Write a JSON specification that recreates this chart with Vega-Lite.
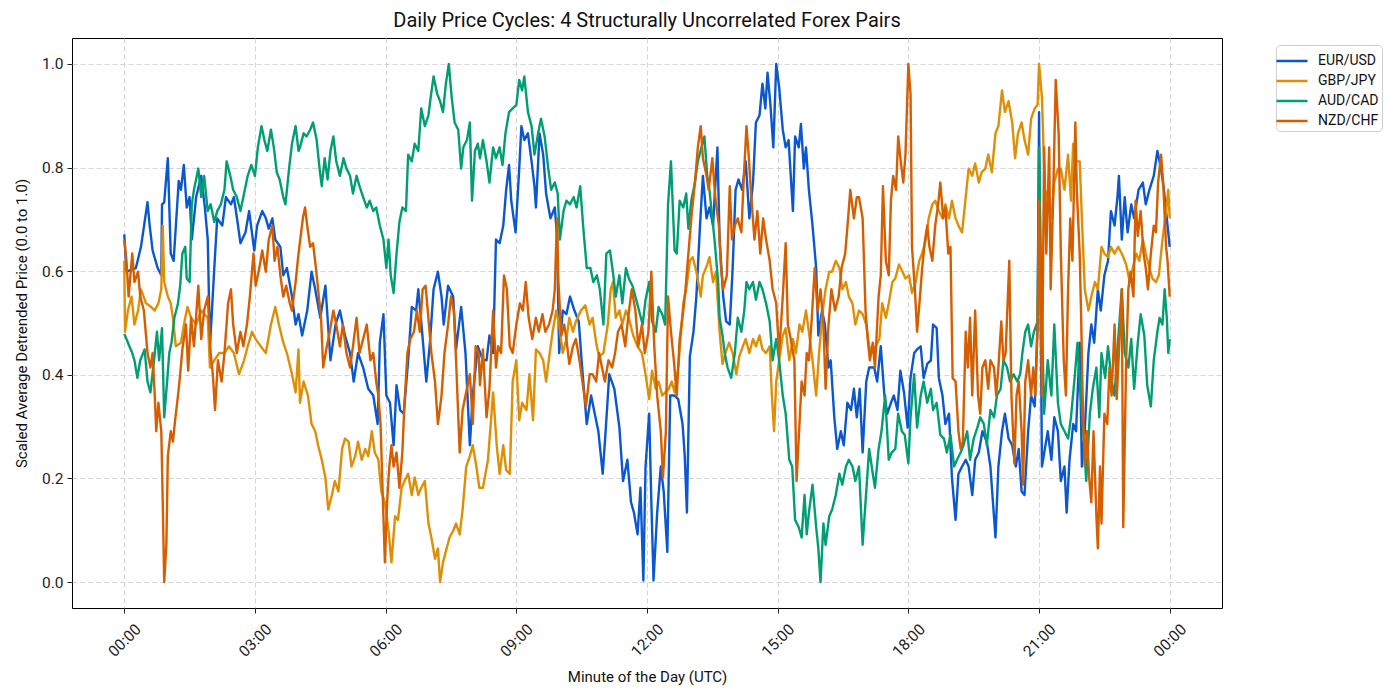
{
"$schema": "https://vega.github.io/schema/vega-lite/v6.json",
"width": 1150,
"height": 570,
"autosize": "none",
"padding": {"left": 72, "top": 38, "right": 178, "bottom": 92},
"background": "white",
"title": {"text": "Daily Price Cycles: 4 Structurally Uncorrelated Forex Pairs", "fontSize": 20, "font": "Roboto", "fontWeight": "normal", "color": "#111", "offset": 7, "anchor": "middle"},
"config": {"view": {"stroke": "#000", "strokeWidth": 1}, "font": "Roboto"},
"data": {"values": [
{"s":"EUR/USD","t":0,"v":0.671},{"s":"EUR/USD","t":3,"v":0.599},{"s":"EUR/USD","t":16,"v":0.606},{"s":"EUR/USD","t":23,"v":0.647},{"s":"EUR/USD","t":32,"v":0.733},{"s":"EUR/USD","t":35,"v":0.688},{"s":"EUR/USD","t":39,"v":0.640},{"s":"EUR/USD","t":46,"v":0.606},{"s":"EUR/USD","t":51,"v":0.592},{"s":"EUR/USD","t":52,"v":0.729},{"s":"EUR/USD","t":55,"v":0.733},{"s":"EUR/USD","t":60,"v":0.818},{"s":"EUR/USD","t":64,"v":0.634},{"s":"EUR/USD","t":68,"v":0.620},{"s":"EUR/USD","t":75,"v":0.774},{"s":"EUR/USD","t":78,"v":0.757},{"s":"EUR/USD","t":82,"v":0.805},{"s":"EUR/USD","t":86,"v":0.723},{"s":"EUR/USD","t":90,"v":0.743},{"s":"EUR/USD","t":93,"v":0.661},{"s":"EUR/USD","t":99,"v":0.743},{"s":"EUR/USD","t":106,"v":0.784},{"s":"EUR/USD","t":111,"v":0.723},{"s":"EUR/USD","t":115,"v":0.661},{"s":"EUR/USD","t":118,"v":0.455},{"s":"EUR/USD","t":124,"v":0.606},{"s":"EUR/USD","t":128,"v":0.702},{"s":"EUR/USD","t":135,"v":0.688},{"s":"EUR/USD","t":140,"v":0.743},{"s":"EUR/USD","t":147,"v":0.729},{"s":"EUR/USD","t":151,"v":0.743},{"s":"EUR/USD","t":156,"v":0.695},{"s":"EUR/USD","t":160,"v":0.654},{"s":"EUR/USD","t":167,"v":0.675},{"s":"EUR/USD","t":172,"v":0.716},{"s":"EUR/USD","t":179,"v":0.640},{"s":"EUR/USD","t":183,"v":0.688},{"s":"EUR/USD","t":190,"v":0.716},{"s":"EUR/USD","t":195,"v":0.702},{"s":"EUR/USD","t":199,"v":0.682},{"s":"EUR/USD","t":204,"v":0.702},{"s":"EUR/USD","t":208,"v":0.661},{"s":"EUR/USD","t":215,"v":0.647},{"s":"EUR/USD","t":219,"v":0.592},{"s":"EUR/USD","t":224,"v":0.606},{"s":"EUR/USD","t":231,"v":0.551},{"s":"EUR/USD","t":236,"v":0.497},{"s":"EUR/USD","t":240,"v":0.517},{"s":"EUR/USD","t":245,"v":0.476},{"s":"EUR/USD","t":252,"v":0.524},{"s":"EUR/USD","t":258,"v":0.599},{"s":"EUR/USD","t":263,"v":0.565},{"s":"EUR/USD","t":270,"v":0.510},{"s":"EUR/USD","t":277,"v":0.572},{"s":"EUR/USD","t":284,"v":0.428},{"s":"EUR/USD","t":291,"v":0.497},{"s":"EUR/USD","t":297,"v":0.524},{"s":"EUR/USD","t":304,"v":0.476},{"s":"EUR/USD","t":311,"v":0.442},{"s":"EUR/USD","t":316,"v":0.387},{"s":"EUR/USD","t":322,"v":0.442},{"s":"EUR/USD","t":329,"v":0.414},{"s":"EUR/USD","t":336,"v":0.373},{"s":"EUR/USD","t":343,"v":0.360},{"s":"EUR/USD","t":349,"v":0.305},{"s":"EUR/USD","t":352,"v":0.462},{"s":"EUR/USD","t":357,"v":0.517},{"s":"EUR/USD","t":361,"v":0.360},{"s":"EUR/USD","t":366,"v":0.346},{"s":"EUR/USD","t":371,"v":0.264},{"s":"EUR/USD","t":375,"v":0.380},{"s":"EUR/USD","t":380,"v":0.332},{"s":"EUR/USD","t":385,"v":0.325},{"s":"EUR/USD","t":391,"v":0.428},{"s":"EUR/USD","t":396,"v":0.531},{"s":"EUR/USD","t":402,"v":0.524},{"s":"EUR/USD","t":405,"v":0.565},{"s":"EUR/USD","t":409,"v":0.503},{"s":"EUR/USD","t":416,"v":0.387},{"s":"EUR/USD","t":421,"v":0.462},{"s":"EUR/USD","t":426,"v":0.565},{"s":"EUR/USD","t":432,"v":0.599},{"s":"EUR/USD","t":437,"v":0.551},{"s":"EUR/USD","t":440,"v":0.497},{"s":"EUR/USD","t":446,"v":0.572},{"s":"EUR/USD","t":453,"v":0.551},{"s":"EUR/USD","t":457,"v":0.449},{"s":"EUR/USD","t":464,"v":0.531},{"s":"EUR/USD","t":470,"v":0.442},{"s":"EUR/USD","t":476,"v":0.264},{"s":"EUR/USD","t":480,"v":0.360},{"s":"EUR/USD","t":487,"v":0.455},{"s":"EUR/USD","t":494,"v":0.428},{"s":"EUR/USD","t":499,"v":0.428},{"s":"EUR/USD","t":503,"v":0.476},{"s":"EUR/USD","t":508,"v":0.442},{"s":"EUR/USD","t":512,"v":0.661},{"s":"EUR/USD","t":517,"v":0.654},{"s":"EUR/USD","t":522,"v":0.688},{"s":"EUR/USD","t":526,"v":0.757},{"s":"EUR/USD","t":530,"v":0.805},{"s":"EUR/USD","t":533,"v":0.736},{"s":"EUR/USD","t":539,"v":0.675},{"s":"EUR/USD","t":544,"v":0.798},{"s":"EUR/USD","t":547,"v":0.880},{"s":"EUR/USD","t":551,"v":0.853},{"s":"EUR/USD","t":556,"v":0.866},{"s":"EUR/USD","t":561,"v":0.812},{"s":"EUR/USD","t":565,"v":0.764},{"s":"EUR/USD","t":567,"v":0.723},{"s":"EUR/USD","t":572,"v":0.866},{"s":"EUR/USD","t":577,"v":0.825},{"s":"EUR/USD","t":581,"v":0.750},{"s":"EUR/USD","t":587,"v":0.702},{"s":"EUR/USD","t":593,"v":0.723},{"s":"EUR/USD","t":596,"v":0.668},{"s":"EUR/USD","t":599,"v":0.442},{"s":"EUR/USD","t":604,"v":0.524},{"s":"EUR/USD","t":609,"v":0.517},{"s":"EUR/USD","t":614,"v":0.551},{"s":"EUR/USD","t":620,"v":0.524},{"s":"EUR/USD","t":626,"v":0.503},{"s":"EUR/USD","t":631,"v":0.408},{"s":"EUR/USD","t":637,"v":0.305},{"s":"EUR/USD","t":643,"v":0.360},{"s":"EUR/USD","t":647,"v":0.332},{"s":"EUR/USD","t":653,"v":0.291},{"s":"EUR/USD","t":659,"v":0.209},{"s":"EUR/USD","t":663,"v":0.291},{"s":"EUR/USD","t":668,"v":0.401},{"s":"EUR/USD","t":675,"v":0.373},{"s":"EUR/USD","t":682,"v":0.298},{"s":"EUR/USD","t":687,"v":0.195},{"s":"EUR/USD","t":693,"v":0.236},{"s":"EUR/USD","t":698,"v":0.154},{"s":"EUR/USD","t":702,"v":0.134},{"s":"EUR/USD","t":707,"v":0.092},{"s":"EUR/USD","t":711,"v":0.182},{"s":"EUR/USD","t":715,"v":0.003},{"s":"EUR/USD","t":718,"v":0.223},{"s":"EUR/USD","t":723,"v":0.325},{"s":"EUR/USD","t":726,"v":0.154},{"s":"EUR/USD","t":729,"v":0.003},{"s":"EUR/USD","t":734,"v":0.134},{"s":"EUR/USD","t":739,"v":0.223},{"s":"EUR/USD","t":743,"v":0.175},{"s":"EUR/USD","t":748,"v":0.058},{"s":"EUR/USD","t":752,"v":0.360},{"s":"EUR/USD","t":758,"v":0.360},{"s":"EUR/USD","t":763,"v":0.353},{"s":"EUR/USD","t":769,"v":0.305},{"s":"EUR/USD","t":772,"v":0.243},{"s":"EUR/USD","t":775,"v":0.134},{"s":"EUR/USD","t":779,"v":0.435},{"s":"EUR/USD","t":784,"v":0.483},{"s":"EUR/USD","t":788,"v":0.551},{"s":"EUR/USD","t":793,"v":0.688},{"s":"EUR/USD","t":797,"v":0.784},{"s":"EUR/USD","t":802,"v":0.702},{"s":"EUR/USD","t":806,"v":0.723},{"s":"EUR/USD","t":811,"v":0.688},{"s":"EUR/USD","t":817,"v":0.839},{"s":"EUR/USD","t":820,"v":0.661},{"s":"EUR/USD","t":825,"v":0.551},{"s":"EUR/USD","t":829,"v":0.503},{"s":"EUR/USD","t":834,"v":0.497},{"s":"EUR/USD","t":838,"v":0.606},{"s":"EUR/USD","t":842,"v":0.757},{"s":"EUR/USD","t":846,"v":0.777},{"s":"EUR/USD","t":851,"v":0.757},{"s":"EUR/USD","t":856,"v":0.812},{"s":"EUR/USD","t":861,"v":0.702},{"s":"EUR/USD","t":866,"v":0.771},{"s":"EUR/USD","t":870,"v":0.887},{"s":"EUR/USD","t":875,"v":0.901},{"s":"EUR/USD","t":879,"v":0.962},{"s":"EUR/USD","t":883,"v":0.914},{"s":"EUR/USD","t":886,"v":0.983},{"s":"EUR/USD","t":890,"v":0.921},{"s":"EUR/USD","t":894,"v":0.839},{"s":"EUR/USD","t":898,"v":1.0},{"s":"EUR/USD","t":902,"v":0.955},{"s":"EUR/USD","t":907,"v":0.873},{"s":"EUR/USD","t":911,"v":0.839},{"s":"EUR/USD","t":915,"v":0.853},{"s":"EUR/USD","t":921,"v":0.716},{"s":"EUR/USD","t":924,"v":0.860},{"s":"EUR/USD","t":929,"v":0.839},{"s":"EUR/USD","t":932,"v":0.884},{"s":"EUR/USD","t":936,"v":0.798},{"s":"EUR/USD","t":939,"v":0.839},{"s":"EUR/USD","t":943,"v":0.757},{"s":"EUR/USD","t":948,"v":0.688},{"s":"EUR/USD","t":953,"v":0.606},{"s":"EUR/USD","t":956,"v":0.476},{"s":"EUR/USD","t":961,"v":0.524},{"s":"EUR/USD","t":965,"v":0.497},{"s":"EUR/USD","t":970,"v":0.414},{"s":"EUR/USD","t":973,"v":0.428},{"s":"EUR/USD","t":978,"v":0.318},{"s":"EUR/USD","t":982,"v":0.257},{"s":"EUR/USD","t":987,"v":0.291},{"s":"EUR/USD","t":991,"v":0.264},{"s":"EUR/USD","t":996,"v":0.346},{"s":"EUR/USD","t":1001,"v":0.332},{"s":"EUR/USD","t":1005,"v":0.373},{"s":"EUR/USD","t":1009,"v":0.318},{"s":"EUR/USD","t":1013,"v":0.373},{"s":"EUR/USD","t":1017,"v":0.250},{"s":"EUR/USD","t":1022,"v":0.387},{"s":"EUR/USD","t":1026,"v":0.414},{"s":"EUR/USD","t":1033,"v":0.414},{"s":"EUR/USD","t":1037,"v":0.387},{"s":"EUR/USD","t":1042,"v":0.455},{"s":"EUR/USD","t":1047,"v":0.360},{"s":"EUR/USD","t":1051,"v":0.325},{"s":"EUR/USD","t":1056,"v":0.346},{"s":"EUR/USD","t":1060,"v":0.360},{"s":"EUR/USD","t":1065,"v":0.332},{"s":"EUR/USD","t":1069,"v":0.408},{"s":"EUR/USD","t":1074,"v":0.366},{"s":"EUR/USD","t":1079,"v":0.298},{"s":"EUR/USD","t":1083,"v":0.394},{"s":"EUR/USD","t":1088,"v":0.442},{"s":"EUR/USD","t":1092,"v":0.449},{"s":"EUR/USD","t":1097,"v":0.455},{"s":"EUR/USD","t":1101,"v":0.394},{"s":"EUR/USD","t":1106,"v":0.421},{"s":"EUR/USD","t":1111,"v":0.428},{"s":"EUR/USD","t":1114,"v":0.497},{"s":"EUR/USD","t":1119,"v":0.490},{"s":"EUR/USD","t":1122,"v":0.394},{"s":"EUR/USD","t":1127,"v":0.360},{"s":"EUR/USD","t":1131,"v":0.305},{"s":"EUR/USD","t":1136,"v":0.325},{"s":"EUR/USD","t":1140,"v":0.202},{"s":"EUR/USD","t":1145,"v":0.120},{"s":"EUR/USD","t":1149,"v":0.209},{"s":"EUR/USD","t":1154,"v":0.223},{"s":"EUR/USD","t":1159,"v":0.236},{"s":"EUR/USD","t":1163,"v":0.223},{"s":"EUR/USD","t":1168,"v":0.168},{"s":"EUR/USD","t":1172,"v":0.236},{"s":"EUR/USD","t":1177,"v":0.250},{"s":"EUR/USD","t":1182,"v":0.291},{"s":"EUR/USD","t":1188,"v":0.271},{"s":"EUR/USD","t":1193,"v":0.223},{"s":"EUR/USD","t":1200,"v":0.086},{"s":"EUR/USD","t":1204,"v":0.223},{"s":"EUR/USD","t":1209,"v":0.291},{"s":"EUR/USD","t":1213,"v":0.325},{"s":"EUR/USD","t":1218,"v":0.277},{"s":"EUR/USD","t":1223,"v":0.264},{"s":"EUR/USD","t":1228,"v":0.223},{"s":"EUR/USD","t":1232,"v":0.257},{"s":"EUR/USD","t":1236,"v":0.175},{"s":"EUR/USD","t":1240,"v":0.168},{"s":"EUR/USD","t":1245,"v":0.291},{"s":"EUR/USD","t":1249,"v":0.360},{"s":"EUR/USD","t":1254,"v":0.339},{"s":"EUR/USD","t":1258,"v":0.497},{"s":"EUR/USD","t":1260,"v":0.907},{"s":"EUR/USD","t":1264,"v":0.223},{"s":"EUR/USD","t":1268,"v":0.257},{"s":"EUR/USD","t":1272,"v":0.291},{"s":"EUR/USD","t":1277,"v":0.236},{"s":"EUR/USD","t":1281,"v":0.318},{"s":"EUR/USD","t":1286,"v":0.291},{"s":"EUR/USD","t":1290,"v":0.195},{"s":"EUR/USD","t":1295,"v":0.223},{"s":"EUR/USD","t":1298,"v":0.134},{"s":"EUR/USD","t":1302,"v":0.236},{"s":"EUR/USD","t":1307,"v":0.305},{"s":"EUR/USD","t":1311,"v":0.291},{"s":"EUR/USD","t":1316,"v":0.462},{"s":"EUR/USD","t":1319,"v":0.223},{"s":"EUR/USD","t":1323,"v":0.291},{"s":"EUR/USD","t":1328,"v":0.442},{"s":"EUR/USD","t":1332,"v":0.497},{"s":"EUR/USD","t":1336,"v":0.462},{"s":"EUR/USD","t":1341,"v":0.565},{"s":"EUR/USD","t":1345,"v":0.524},{"s":"EUR/USD","t":1350,"v":0.592},{"s":"EUR/USD","t":1355,"v":0.620},{"s":"EUR/USD","t":1359,"v":0.716},{"s":"EUR/USD","t":1364,"v":0.688},{"s":"EUR/USD","t":1368,"v":0.743},{"s":"EUR/USD","t":1370,"v":0.784},{"s":"EUR/USD","t":1374,"v":0.661},{"s":"EUR/USD","t":1378,"v":0.743},{"s":"EUR/USD","t":1382,"v":0.675},{"s":"EUR/USD","t":1387,"v":0.729},{"s":"EUR/USD","t":1391,"v":0.702},{"s":"EUR/USD","t":1397,"v":0.757},{"s":"EUR/USD","t":1403,"v":0.771},{"s":"EUR/USD","t":1407,"v":0.729},{"s":"EUR/USD","t":1412,"v":0.757},{"s":"EUR/USD","t":1418,"v":0.784},{"s":"EUR/USD","t":1423,"v":0.832},{"s":"EUR/USD","t":1428,"v":0.798},{"s":"EUR/USD","t":1432,"v":0.757},{"s":"EUR/USD","t":1437,"v":0.688},{"s":"EUR/USD","t":1440,"v":0.647},
{"s":"GBP/JPY","t":0,"v":0.620},{"s":"GBP/JPY","t":1,"v":0.483},{"s":"GBP/JPY","t":5,"v":0.524},{"s":"GBP/JPY","t":10,"v":0.551},{"s":"GBP/JPY","t":14,"v":0.497},{"s":"GBP/JPY","t":19,"v":0.524},{"s":"GBP/JPY","t":23,"v":0.565},{"s":"GBP/JPY","t":30,"v":0.538},{"s":"GBP/JPY","t":37,"v":0.531},{"s":"GBP/JPY","t":42,"v":0.524},{"s":"GBP/JPY","t":47,"v":0.538},{"s":"GBP/JPY","t":51,"v":0.565},{"s":"GBP/JPY","t":53,"v":0.688},{"s":"GBP/JPY","t":55,"v":0.579},{"s":"GBP/JPY","t":60,"v":0.551},{"s":"GBP/JPY","t":64,"v":0.538},{"s":"GBP/JPY","t":67,"v":0.510},{"s":"GBP/JPY","t":71,"v":0.455},{"s":"GBP/JPY","t":78,"v":0.462},{"s":"GBP/JPY","t":83,"v":0.503},{"s":"GBP/JPY","t":87,"v":0.531},{"s":"GBP/JPY","t":92,"v":0.510},{"s":"GBP/JPY","t":99,"v":0.497},{"s":"GBP/JPY","t":106,"v":0.524},{"s":"GBP/JPY","t":115,"v":0.510},{"s":"GBP/JPY","t":118,"v":0.414},{"s":"GBP/JPY","t":124,"v":0.428},{"s":"GBP/JPY","t":131,"v":0.442},{"s":"GBP/JPY","t":138,"v":0.442},{"s":"GBP/JPY","t":144,"v":0.455},{"s":"GBP/JPY","t":151,"v":0.442},{"s":"GBP/JPY","t":158,"v":0.401},{"s":"GBP/JPY","t":165,"v":0.428},{"s":"GBP/JPY","t":170,"v":0.455},{"s":"GBP/JPY","t":176,"v":0.483},{"s":"GBP/JPY","t":181,"v":0.469},{"s":"GBP/JPY","t":188,"v":0.455},{"s":"GBP/JPY","t":195,"v":0.442},{"s":"GBP/JPY","t":202,"v":0.497},{"s":"GBP/JPY","t":208,"v":0.531},{"s":"GBP/JPY","t":213,"v":0.497},{"s":"GBP/JPY","t":219,"v":0.462},{"s":"GBP/JPY","t":224,"v":0.442},{"s":"GBP/JPY","t":231,"v":0.401},{"s":"GBP/JPY","t":236,"v":0.366},{"s":"GBP/JPY","t":240,"v":0.449},{"s":"GBP/JPY","t":242,"v":0.346},{"s":"GBP/JPY","t":247,"v":0.387},{"s":"GBP/JPY","t":253,"v":0.360},{"s":"GBP/JPY","t":258,"v":0.305},{"s":"GBP/JPY","t":263,"v":0.291},{"s":"GBP/JPY","t":267,"v":0.264},{"s":"GBP/JPY","t":272,"v":0.236},{"s":"GBP/JPY","t":277,"v":0.202},{"s":"GBP/JPY","t":281,"v":0.140},{"s":"GBP/JPY","t":286,"v":0.168},{"s":"GBP/JPY","t":290,"v":0.195},{"s":"GBP/JPY","t":295,"v":0.175},{"s":"GBP/JPY","t":300,"v":0.257},{"s":"GBP/JPY","t":304,"v":0.277},{"s":"GBP/JPY","t":309,"v":0.271},{"s":"GBP/JPY","t":313,"v":0.223},{"s":"GBP/JPY","t":318,"v":0.243},{"s":"GBP/JPY","t":322,"v":0.271},{"s":"GBP/JPY","t":327,"v":0.236},{"s":"GBP/JPY","t":332,"v":0.257},{"s":"GBP/JPY","t":336,"v":0.243},{"s":"GBP/JPY","t":341,"v":0.291},{"s":"GBP/JPY","t":345,"v":0.250},{"s":"GBP/JPY","t":350,"v":0.236},{"s":"GBP/JPY","t":354,"v":0.175},{"s":"GBP/JPY","t":359,"v":0.154},{"s":"GBP/JPY","t":364,"v":0.099},{"s":"GBP/JPY","t":368,"v":0.038},{"s":"GBP/JPY","t":373,"v":0.127},{"s":"GBP/JPY","t":377,"v":0.120},{"s":"GBP/JPY","t":382,"v":0.182},{"s":"GBP/JPY","t":386,"v":0.195},{"s":"GBP/JPY","t":391,"v":0.209},{"s":"GBP/JPY","t":396,"v":0.168},{"s":"GBP/JPY","t":400,"v":0.202},{"s":"GBP/JPY","t":405,"v":0.168},{"s":"GBP/JPY","t":409,"v":0.182},{"s":"GBP/JPY","t":414,"v":0.195},{"s":"GBP/JPY","t":419,"v":0.113},{"s":"GBP/JPY","t":423,"v":0.086},{"s":"GBP/JPY","t":428,"v":0.045},{"s":"GBP/JPY","t":432,"v":0.065},{"s":"GBP/JPY","t":435,"v":0.0},{"s":"GBP/JPY","t":439,"v":0.038},{"s":"GBP/JPY","t":444,"v":0.065},{"s":"GBP/JPY","t":448,"v":0.086},{"s":"GBP/JPY","t":453,"v":0.099},{"s":"GBP/JPY","t":457,"v":0.113},{"s":"GBP/JPY","t":462,"v":0.092},{"s":"GBP/JPY","t":466,"v":0.140},{"s":"GBP/JPY","t":471,"v":0.223},{"s":"GBP/JPY","t":476,"v":0.243},{"s":"GBP/JPY","t":480,"v":0.264},{"s":"GBP/JPY","t":485,"v":0.223},{"s":"GBP/JPY","t":489,"v":0.182},{"s":"GBP/JPY","t":494,"v":0.182},{"s":"GBP/JPY","t":501,"v":0.236},{"s":"GBP/JPY","t":508,"v":0.366},{"s":"GBP/JPY","t":513,"v":0.264},{"s":"GBP/JPY","t":517,"v":0.209},{"s":"GBP/JPY","t":522,"v":0.264},{"s":"GBP/JPY","t":526,"v":0.216},{"s":"GBP/JPY","t":531,"v":0.209},{"s":"GBP/JPY","t":535,"v":0.387},{"s":"GBP/JPY","t":540,"v":0.428},{"s":"GBP/JPY","t":544,"v":0.312},{"s":"GBP/JPY","t":548,"v":0.346},{"s":"GBP/JPY","t":554,"v":0.332},{"s":"GBP/JPY","t":558,"v":0.401},{"s":"GBP/JPY","t":563,"v":0.312},{"s":"GBP/JPY","t":567,"v":0.449},{"s":"GBP/JPY","t":572,"v":0.442},{"s":"GBP/JPY","t":577,"v":0.428},{"s":"GBP/JPY","t":581,"v":0.387},{"s":"GBP/JPY","t":586,"v":0.442},{"s":"GBP/JPY","t":590,"v":0.483},{"s":"GBP/JPY","t":595,"v":0.524},{"s":"GBP/JPY","t":599,"v":0.497},{"s":"GBP/JPY","t":604,"v":0.442},{"s":"GBP/JPY","t":609,"v":0.469},{"s":"GBP/JPY","t":613,"v":0.510},{"s":"GBP/JPY","t":618,"v":0.483},{"s":"GBP/JPY","t":622,"v":0.503},{"s":"GBP/JPY","t":629,"v":0.524},{"s":"GBP/JPY","t":635,"v":0.534},{"s":"GBP/JPY","t":641,"v":0.497},{"s":"GBP/JPY","t":645,"v":0.510},{"s":"GBP/JPY","t":650,"v":0.462},{"s":"GBP/JPY","t":654,"v":0.435},{"s":"GBP/JPY","t":660,"v":0.442},{"s":"GBP/JPY","t":666,"v":0.497},{"s":"GBP/JPY","t":670,"v":0.565},{"s":"GBP/JPY","t":673,"v":0.579},{"s":"GBP/JPY","t":677,"v":0.510},{"s":"GBP/JPY","t":682,"v":0.524},{"s":"GBP/JPY","t":686,"v":0.497},{"s":"GBP/JPY","t":691,"v":0.524},{"s":"GBP/JPY","t":695,"v":0.510},{"s":"GBP/JPY","t":701,"v":0.476},{"s":"GBP/JPY","t":707,"v":0.455},{"s":"GBP/JPY","t":713,"v":0.442},{"s":"GBP/JPY","t":718,"v":0.401},{"s":"GBP/JPY","t":723,"v":0.353},{"s":"GBP/JPY","t":727,"v":0.408},{"s":"GBP/JPY","t":732,"v":0.373},{"s":"GBP/JPY","t":736,"v":0.387},{"s":"GBP/JPY","t":741,"v":0.360},{"s":"GBP/JPY","t":745,"v":0.366},{"s":"GBP/JPY","t":750,"v":0.373},{"s":"GBP/JPY","t":754,"v":0.387},{"s":"GBP/JPY","t":758,"v":0.366},{"s":"GBP/JPY","t":763,"v":0.414},{"s":"GBP/JPY","t":770,"v":0.538},{"s":"GBP/JPY","t":774,"v":0.565},{"s":"GBP/JPY","t":779,"v":0.620},{"s":"GBP/JPY","t":783,"v":0.627},{"s":"GBP/JPY","t":788,"v":0.599},{"s":"GBP/JPY","t":794,"v":0.551},{"s":"GBP/JPY","t":797,"v":0.592},{"s":"GBP/JPY","t":803,"v":0.613},{"s":"GBP/JPY","t":806,"v":0.627},{"s":"GBP/JPY","t":811,"v":0.579},{"s":"GBP/JPY","t":815,"v":0.599},{"s":"GBP/JPY","t":820,"v":0.483},{"s":"GBP/JPY","t":824,"v":0.421},{"s":"GBP/JPY","t":828,"v":0.442},{"s":"GBP/JPY","t":833,"v":0.462},{"s":"GBP/JPY","t":838,"v":0.442},{"s":"GBP/JPY","t":843,"v":0.401},{"s":"GBP/JPY","t":847,"v":0.435},{"s":"GBP/JPY","t":852,"v":0.455},{"s":"GBP/JPY","t":856,"v":0.469},{"s":"GBP/JPY","t":861,"v":0.442},{"s":"GBP/JPY","t":866,"v":0.469},{"s":"GBP/JPY","t":870,"v":0.455},{"s":"GBP/JPY","t":875,"v":0.476},{"s":"GBP/JPY","t":879,"v":0.449},{"s":"GBP/JPY","t":884,"v":0.442},{"s":"GBP/JPY","t":889,"v":0.455},{"s":"GBP/JPY","t":892,"v":0.360},{"s":"GBP/JPY","t":895,"v":0.291},{"s":"GBP/JPY","t":898,"v":0.387},{"s":"GBP/JPY","t":902,"v":0.428},{"s":"GBP/JPY","t":907,"v":0.476},{"s":"GBP/JPY","t":911,"v":0.490},{"s":"GBP/JPY","t":916,"v":0.428},{"s":"GBP/JPY","t":921,"v":0.469},{"s":"GBP/JPY","t":925,"v":0.442},{"s":"GBP/JPY","t":930,"v":0.497},{"s":"GBP/JPY","t":934,"v":0.483},{"s":"GBP/JPY","t":939,"v":0.524},{"s":"GBP/JPY","t":943,"v":0.483},{"s":"GBP/JPY","t":948,"v":0.428},{"s":"GBP/JPY","t":953,"v":0.360},{"s":"GBP/JPY","t":957,"v":0.442},{"s":"GBP/JPY","t":962,"v":0.524},{"s":"GBP/JPY","t":966,"v":0.565},{"s":"GBP/JPY","t":971,"v":0.599},{"s":"GBP/JPY","t":975,"v":0.599},{"s":"GBP/JPY","t":980,"v":0.620},{"s":"GBP/JPY","t":985,"v":0.606},{"s":"GBP/JPY","t":989,"v":0.565},{"s":"GBP/JPY","t":994,"v":0.579},{"s":"GBP/JPY","t":998,"v":0.551},{"s":"GBP/JPY","t":1003,"v":0.538},{"s":"GBP/JPY","t":1007,"v":0.497},{"s":"GBP/JPY","t":1012,"v":0.524},{"s":"GBP/JPY","t":1017,"v":0.517},{"s":"GBP/JPY","t":1022,"v":0.497},{"s":"GBP/JPY","t":1026,"v":0.455},{"s":"GBP/JPY","t":1031,"v":0.442},{"s":"GBP/JPY","t":1035,"v":0.455},{"s":"GBP/JPY","t":1040,"v":0.469},{"s":"GBP/JPY","t":1044,"v":0.538},{"s":"GBP/JPY","t":1049,"v":0.510},{"s":"GBP/JPY","t":1053,"v":0.538},{"s":"GBP/JPY","t":1058,"v":0.579},{"s":"GBP/JPY","t":1062,"v":0.586},{"s":"GBP/JPY","t":1067,"v":0.613},{"s":"GBP/JPY","t":1072,"v":0.599},{"s":"GBP/JPY","t":1076,"v":0.586},{"s":"GBP/JPY","t":1081,"v":0.592},{"s":"GBP/JPY","t":1085,"v":0.558},{"s":"GBP/JPY","t":1090,"v":0.579},{"s":"GBP/JPY","t":1095,"v":0.620},{"s":"GBP/JPY","t":1099,"v":0.634},{"s":"GBP/JPY","t":1104,"v":0.661},{"s":"GBP/JPY","t":1108,"v":0.702},{"s":"GBP/JPY","t":1113,"v":0.729},{"s":"GBP/JPY","t":1117,"v":0.736},{"s":"GBP/JPY","t":1122,"v":0.716},{"s":"GBP/JPY","t":1127,"v":0.702},{"s":"GBP/JPY","t":1131,"v":0.729},{"s":"GBP/JPY","t":1136,"v":0.702},{"s":"GBP/JPY","t":1140,"v":0.736},{"s":"GBP/JPY","t":1145,"v":0.702},{"s":"GBP/JPY","t":1149,"v":0.688},{"s":"GBP/JPY","t":1154,"v":0.675},{"s":"GBP/JPY","t":1159,"v":0.743},{"s":"GBP/JPY","t":1163,"v":0.798},{"s":"GBP/JPY","t":1168,"v":0.784},{"s":"GBP/JPY","t":1172,"v":0.808},{"s":"GBP/JPY","t":1177,"v":0.771},{"s":"GBP/JPY","t":1181,"v":0.791},{"s":"GBP/JPY","t":1186,"v":0.798},{"s":"GBP/JPY","t":1190,"v":0.825},{"s":"GBP/JPY","t":1195,"v":0.791},{"s":"GBP/JPY","t":1200,"v":0.866},{"s":"GBP/JPY","t":1204,"v":0.880},{"s":"GBP/JPY","t":1209,"v":0.949},{"s":"GBP/JPY","t":1213,"v":0.907},{"s":"GBP/JPY","t":1218,"v":0.928},{"s":"GBP/JPY","t":1223,"v":0.887},{"s":"GBP/JPY","t":1227,"v":0.818},{"s":"GBP/JPY","t":1231,"v":0.866},{"s":"GBP/JPY","t":1236,"v":0.887},{"s":"GBP/JPY","t":1240,"v":0.853},{"s":"GBP/JPY","t":1245,"v":0.825},{"s":"GBP/JPY","t":1249,"v":0.894},{"s":"GBP/JPY","t":1254,"v":0.914},{"s":"GBP/JPY","t":1258,"v":0.921},{"s":"GBP/JPY","t":1260,"v":1.0},{"s":"GBP/JPY","t":1264,"v":0.935},{"s":"GBP/JPY","t":1268,"v":0.757},{"s":"GBP/JPY","t":1272,"v":0.743},{"s":"GBP/JPY","t":1277,"v":0.702},{"s":"GBP/JPY","t":1281,"v":0.771},{"s":"GBP/JPY","t":1286,"v":0.798},{"s":"GBP/JPY","t":1290,"v":0.798},{"s":"GBP/JPY","t":1295,"v":0.757},{"s":"GBP/JPY","t":1300,"v":0.825},{"s":"GBP/JPY","t":1304,"v":0.736},{"s":"GBP/JPY","t":1307,"v":0.846},{"s":"GBP/JPY","t":1311,"v":0.812},{"s":"GBP/JPY","t":1316,"v":0.812},{"s":"GBP/JPY","t":1319,"v":0.702},{"s":"GBP/JPY","t":1323,"v":0.565},{"s":"GBP/JPY","t":1328,"v":0.524},{"s":"GBP/JPY","t":1332,"v":0.551},{"s":"GBP/JPY","t":1337,"v":0.579},{"s":"GBP/JPY","t":1341,"v":0.565},{"s":"GBP/JPY","t":1346,"v":0.647},{"s":"GBP/JPY","t":1350,"v":0.634},{"s":"GBP/JPY","t":1355,"v":0.627},{"s":"GBP/JPY","t":1359,"v":0.647},{"s":"GBP/JPY","t":1364,"v":0.634},{"s":"GBP/JPY","t":1369,"v":0.647},{"s":"GBP/JPY","t":1374,"v":0.634},{"s":"GBP/JPY","t":1380,"v":0.613},{"s":"GBP/JPY","t":1385,"v":0.579},{"s":"GBP/JPY","t":1389,"v":0.606},{"s":"GBP/JPY","t":1394,"v":0.634},{"s":"GBP/JPY","t":1398,"v":0.620},{"s":"GBP/JPY","t":1403,"v":0.661},{"s":"GBP/JPY","t":1407,"v":0.634},{"s":"GBP/JPY","t":1412,"v":0.606},{"s":"GBP/JPY","t":1416,"v":0.586},{"s":"GBP/JPY","t":1421,"v":0.579},{"s":"GBP/JPY","t":1425,"v":0.592},{"s":"GBP/JPY","t":1430,"v":0.661},{"s":"GBP/JPY","t":1435,"v":0.716},{"s":"GBP/JPY","t":1438,"v":0.757},{"s":"GBP/JPY","t":1440,"v":0.702},
{"s":"AUD/CAD","t":0,"v":0.479},{"s":"AUD/CAD","t":3,"v":0.469},{"s":"AUD/CAD","t":7,"v":0.455},{"s":"AUD/CAD","t":11,"v":0.442},{"s":"AUD/CAD","t":14,"v":0.428},{"s":"AUD/CAD","t":18,"v":0.394},{"s":"AUD/CAD","t":22,"v":0.428},{"s":"AUD/CAD","t":28,"v":0.449},{"s":"AUD/CAD","t":32,"v":0.387},{"s":"AUD/CAD","t":36,"v":0.366},{"s":"AUD/CAD","t":41,"v":0.428},{"s":"AUD/CAD","t":45,"v":0.483},{"s":"AUD/CAD","t":48,"v":0.428},{"s":"AUD/CAD","t":52,"v":0.490},{"s":"AUD/CAD","t":55,"v":0.318},{"s":"AUD/CAD","t":59,"v":0.387},{"s":"AUD/CAD","t":62,"v":0.442},{"s":"AUD/CAD","t":65,"v":0.462},{"s":"AUD/CAD","t":69,"v":0.510},{"s":"AUD/CAD","t":74,"v":0.538},{"s":"AUD/CAD","t":77,"v":0.572},{"s":"AUD/CAD","t":80,"v":0.634},{"s":"AUD/CAD","t":84,"v":0.647},{"s":"AUD/CAD","t":86,"v":0.586},{"s":"AUD/CAD","t":90,"v":0.579},{"s":"AUD/CAD","t":93,"v":0.729},{"s":"AUD/CAD","t":96,"v":0.757},{"s":"AUD/CAD","t":102,"v":0.798},{"s":"AUD/CAD","t":106,"v":0.743},{"s":"AUD/CAD","t":110,"v":0.784},{"s":"AUD/CAD","t":115,"v":0.716},{"s":"AUD/CAD","t":119,"v":0.729},{"s":"AUD/CAD","t":124,"v":0.695},{"s":"AUD/CAD","t":128,"v":0.716},{"s":"AUD/CAD","t":133,"v":0.729},{"s":"AUD/CAD","t":138,"v":0.757},{"s":"AUD/CAD","t":141,"v":0.812},{"s":"AUD/CAD","t":146,"v":0.784},{"s":"AUD/CAD","t":150,"v":0.757},{"s":"AUD/CAD","t":155,"v":0.743},{"s":"AUD/CAD","t":160,"v":0.716},{"s":"AUD/CAD","t":164,"v":0.743},{"s":"AUD/CAD","t":170,"v":0.784},{"s":"AUD/CAD","t":175,"v":0.805},{"s":"AUD/CAD","t":180,"v":0.784},{"s":"AUD/CAD","t":184,"v":0.839},{"s":"AUD/CAD","t":189,"v":0.880},{"s":"AUD/CAD","t":193,"v":0.853},{"s":"AUD/CAD","t":197,"v":0.832},{"s":"AUD/CAD","t":202,"v":0.873},{"s":"AUD/CAD","t":206,"v":0.839},{"s":"AUD/CAD","t":210,"v":0.791},{"s":"AUD/CAD","t":214,"v":0.777},{"s":"AUD/CAD","t":219,"v":0.743},{"s":"AUD/CAD","t":222,"v":0.729},{"s":"AUD/CAD","t":227,"v":0.798},{"s":"AUD/CAD","t":231,"v":0.846},{"s":"AUD/CAD","t":236,"v":0.880},{"s":"AUD/CAD","t":240,"v":0.832},{"s":"AUD/CAD","t":242,"v":0.839},{"s":"AUD/CAD","t":247,"v":0.866},{"s":"AUD/CAD","t":251,"v":0.860},{"s":"AUD/CAD","t":256,"v":0.873},{"s":"AUD/CAD","t":260,"v":0.887},{"s":"AUD/CAD","t":265,"v":0.853},{"s":"AUD/CAD","t":269,"v":0.798},{"s":"AUD/CAD","t":272,"v":0.764},{"s":"AUD/CAD","t":276,"v":0.818},{"s":"AUD/CAD","t":280,"v":0.777},{"s":"AUD/CAD","t":284,"v":0.832},{"s":"AUD/CAD","t":288,"v":0.860},{"s":"AUD/CAD","t":292,"v":0.812},{"s":"AUD/CAD","t":297,"v":0.784},{"s":"AUD/CAD","t":302,"v":0.818},{"s":"AUD/CAD","t":306,"v":0.798},{"s":"AUD/CAD","t":311,"v":0.784},{"s":"AUD/CAD","t":315,"v":0.750},{"s":"AUD/CAD","t":320,"v":0.784},{"s":"AUD/CAD","t":324,"v":0.764},{"s":"AUD/CAD","t":329,"v":0.743},{"s":"AUD/CAD","t":334,"v":0.723},{"s":"AUD/CAD","t":338,"v":0.736},{"s":"AUD/CAD","t":343,"v":0.716},{"s":"AUD/CAD","t":347,"v":0.723},{"s":"AUD/CAD","t":352,"v":0.688},{"s":"AUD/CAD","t":357,"v":0.661},{"s":"AUD/CAD","t":361,"v":0.606},{"s":"AUD/CAD","t":364,"v":0.661},{"s":"AUD/CAD","t":367,"v":0.592},{"s":"AUD/CAD","t":371,"v":0.558},{"s":"AUD/CAD","t":375,"v":0.634},{"s":"AUD/CAD","t":379,"v":0.695},{"s":"AUD/CAD","t":383,"v":0.723},{"s":"AUD/CAD","t":388,"v":0.716},{"s":"AUD/CAD","t":391,"v":0.825},{"s":"AUD/CAD","t":396,"v":0.812},{"s":"AUD/CAD","t":400,"v":0.846},{"s":"AUD/CAD","t":405,"v":0.832},{"s":"AUD/CAD","t":409,"v":0.914},{"s":"AUD/CAD","t":414,"v":0.880},{"s":"AUD/CAD","t":419,"v":0.901},{"s":"AUD/CAD","t":422,"v":0.935},{"s":"AUD/CAD","t":426,"v":0.976},{"s":"AUD/CAD","t":431,"v":0.942},{"s":"AUD/CAD","t":435,"v":0.928},{"s":"AUD/CAD","t":439,"v":0.907},{"s":"AUD/CAD","t":443,"v":0.962},{"s":"AUD/CAD","t":447,"v":1.0},{"s":"AUD/CAD","t":451,"v":0.935},{"s":"AUD/CAD","t":455,"v":0.887},{"s":"AUD/CAD","t":460,"v":0.873},{"s":"AUD/CAD","t":464,"v":0.798},{"s":"AUD/CAD","t":467,"v":0.839},{"s":"AUD/CAD","t":472,"v":0.853},{"s":"AUD/CAD","t":476,"v":0.887},{"s":"AUD/CAD","t":479,"v":0.736},{"s":"AUD/CAD","t":483,"v":0.832},{"s":"AUD/CAD","t":487,"v":0.846},{"s":"AUD/CAD","t":490,"v":0.818},{"s":"AUD/CAD","t":494,"v":0.853},{"s":"AUD/CAD","t":499,"v":0.812},{"s":"AUD/CAD","t":503,"v":0.771},{"s":"AUD/CAD","t":508,"v":0.839},{"s":"AUD/CAD","t":512,"v":0.818},{"s":"AUD/CAD","t":517,"v":0.839},{"s":"AUD/CAD","t":521,"v":0.805},{"s":"AUD/CAD","t":525,"v":0.866},{"s":"AUD/CAD","t":530,"v":0.907},{"s":"AUD/CAD","t":535,"v":0.914},{"s":"AUD/CAD","t":540,"v":0.921},{"s":"AUD/CAD","t":544,"v":0.969},{"s":"AUD/CAD","t":548,"v":0.949},{"s":"AUD/CAD","t":551,"v":0.976},{"s":"AUD/CAD","t":556,"v":0.907},{"s":"AUD/CAD","t":561,"v":0.880},{"s":"AUD/CAD","t":565,"v":0.825},{"s":"AUD/CAD","t":570,"v":0.866},{"s":"AUD/CAD","t":574,"v":0.894},{"s":"AUD/CAD","t":579,"v":0.860},{"s":"AUD/CAD","t":584,"v":0.798},{"s":"AUD/CAD","t":588,"v":0.757},{"s":"AUD/CAD","t":593,"v":0.771},{"s":"AUD/CAD","t":597,"v":0.750},{"s":"AUD/CAD","t":600,"v":0.661},{"s":"AUD/CAD","t":605,"v":0.716},{"s":"AUD/CAD","t":609,"v":0.736},{"s":"AUD/CAD","t":614,"v":0.729},{"s":"AUD/CAD","t":619,"v":0.743},{"s":"AUD/CAD","t":623,"v":0.723},{"s":"AUD/CAD","t":628,"v":0.764},{"s":"AUD/CAD","t":632,"v":0.688},{"s":"AUD/CAD","t":637,"v":0.606},{"s":"AUD/CAD","t":642,"v":0.606},{"s":"AUD/CAD","t":646,"v":0.579},{"s":"AUD/CAD","t":651,"v":0.592},{"s":"AUD/CAD","t":655,"v":0.565},{"s":"AUD/CAD","t":660,"v":0.497},{"s":"AUD/CAD","t":664,"v":0.634},{"s":"AUD/CAD","t":669,"v":0.640},{"s":"AUD/CAD","t":673,"v":0.599},{"s":"AUD/CAD","t":677,"v":0.551},{"s":"AUD/CAD","t":682,"v":0.592},{"s":"AUD/CAD","t":686,"v":0.538},{"s":"AUD/CAD","t":691,"v":0.606},{"s":"AUD/CAD","t":695,"v":0.586},{"s":"AUD/CAD","t":700,"v":0.572},{"s":"AUD/CAD","t":704,"v":0.551},{"s":"AUD/CAD","t":709,"v":0.524},{"s":"AUD/CAD","t":714,"v":0.497},{"s":"AUD/CAD","t":718,"v":0.545},{"s":"AUD/CAD","t":723,"v":0.579},{"s":"AUD/CAD","t":727,"v":0.503},{"s":"AUD/CAD","t":732,"v":0.483},{"s":"AUD/CAD","t":736,"v":0.531},{"s":"AUD/CAD","t":741,"v":0.517},{"s":"AUD/CAD","t":745,"v":0.497},{"s":"AUD/CAD","t":749,"v":0.729},{"s":"AUD/CAD","t":753,"v":0.812},{"s":"AUD/CAD","t":758,"v":0.640},{"s":"AUD/CAD","t":761,"v":0.634},{"s":"AUD/CAD","t":765,"v":0.736},{"s":"AUD/CAD","t":770,"v":0.723},{"s":"AUD/CAD","t":774,"v":0.750},{"s":"AUD/CAD","t":777,"v":0.682},{"s":"AUD/CAD","t":781,"v":0.736},{"s":"AUD/CAD","t":786,"v":0.771},{"s":"AUD/CAD","t":790,"v":0.812},{"s":"AUD/CAD","t":795,"v":0.839},{"s":"AUD/CAD","t":799,"v":0.860},{"s":"AUD/CAD","t":803,"v":0.784},{"s":"AUD/CAD","t":806,"v":0.757},{"s":"AUD/CAD","t":810,"v":0.702},{"s":"AUD/CAD","t":813,"v":0.661},{"s":"AUD/CAD","t":818,"v":0.579},{"s":"AUD/CAD","t":820,"v":0.510},{"s":"AUD/CAD","t":824,"v":0.476},{"s":"AUD/CAD","t":827,"v":0.442},{"s":"AUD/CAD","t":831,"v":0.414},{"s":"AUD/CAD","t":836,"v":0.394},{"s":"AUD/CAD","t":841,"v":0.442},{"s":"AUD/CAD","t":845,"v":0.510},{"s":"AUD/CAD","t":850,"v":0.483},{"s":"AUD/CAD","t":854,"v":0.524},{"s":"AUD/CAD","t":857,"v":0.579},{"s":"AUD/CAD","t":861,"v":0.565},{"s":"AUD/CAD","t":866,"v":0.579},{"s":"AUD/CAD","t":870,"v":0.545},{"s":"AUD/CAD","t":875,"v":0.579},{"s":"AUD/CAD","t":879,"v":0.565},{"s":"AUD/CAD","t":884,"v":0.538},{"s":"AUD/CAD","t":889,"v":0.503},{"s":"AUD/CAD","t":893,"v":0.428},{"s":"AUD/CAD","t":898,"v":0.469},{"s":"AUD/CAD","t":902,"v":0.428},{"s":"AUD/CAD","t":907,"v":0.360},{"s":"AUD/CAD","t":911,"v":0.325},{"s":"AUD/CAD","t":916,"v":0.236},{"s":"AUD/CAD","t":920,"v":0.223},{"s":"AUD/CAD","t":924,"v":0.120},{"s":"AUD/CAD","t":929,"v":0.106},{"s":"AUD/CAD","t":933,"v":0.086},{"s":"AUD/CAD","t":937,"v":0.168},{"s":"AUD/CAD","t":940,"v":0.092},{"s":"AUD/CAD","t":943,"v":0.134},{"s":"AUD/CAD","t":948,"v":0.188},{"s":"AUD/CAD","t":953,"v":0.106},{"s":"AUD/CAD","t":956,"v":0.065},{"s":"AUD/CAD","t":959,"v":0.0},{"s":"AUD/CAD","t":963,"v":0.113},{"s":"AUD/CAD","t":966,"v":0.072},{"s":"AUD/CAD","t":971,"v":0.127},{"s":"AUD/CAD","t":975,"v":0.140},{"s":"AUD/CAD","t":980,"v":0.168},{"s":"AUD/CAD","t":985,"v":0.209},{"s":"AUD/CAD","t":989,"v":0.188},{"s":"AUD/CAD","t":994,"v":0.223},{"s":"AUD/CAD","t":998,"v":0.236},{"s":"AUD/CAD","t":1003,"v":0.223},{"s":"AUD/CAD","t":1007,"v":0.195},{"s":"AUD/CAD","t":1012,"v":0.223},{"s":"AUD/CAD","t":1017,"v":0.072},{"s":"AUD/CAD","t":1022,"v":0.175},{"s":"AUD/CAD","t":1026,"v":0.257},{"s":"AUD/CAD","t":1031,"v":0.209},{"s":"AUD/CAD","t":1034,"v":0.182},{"s":"AUD/CAD","t":1039,"v":0.257},{"s":"AUD/CAD","t":1043,"v":0.291},{"s":"AUD/CAD","t":1048,"v":0.360},{"s":"AUD/CAD","t":1053,"v":0.236},{"s":"AUD/CAD","t":1057,"v":0.250},{"s":"AUD/CAD","t":1062,"v":0.257},{"s":"AUD/CAD","t":1066,"v":0.325},{"s":"AUD/CAD","t":1071,"v":0.291},{"s":"AUD/CAD","t":1075,"v":0.284},{"s":"AUD/CAD","t":1080,"v":0.229},{"s":"AUD/CAD","t":1083,"v":0.318},{"s":"AUD/CAD","t":1088,"v":0.401},{"s":"AUD/CAD","t":1092,"v":0.298},{"s":"AUD/CAD","t":1097,"v":0.360},{"s":"AUD/CAD","t":1101,"v":0.387},{"s":"AUD/CAD","t":1106,"v":0.346},{"s":"AUD/CAD","t":1111,"v":0.373},{"s":"AUD/CAD","t":1114,"v":0.332},{"s":"AUD/CAD","t":1119,"v":0.346},{"s":"AUD/CAD","t":1124,"v":0.284},{"s":"AUD/CAD","t":1129,"v":0.277},{"s":"AUD/CAD","t":1133,"v":0.250},{"s":"AUD/CAD","t":1138,"v":0.284},{"s":"AUD/CAD","t":1143,"v":0.223},{"s":"AUD/CAD","t":1147,"v":0.236},{"s":"AUD/CAD","t":1152,"v":0.250},{"s":"AUD/CAD","t":1156,"v":0.264},{"s":"AUD/CAD","t":1161,"v":0.291},{"s":"AUD/CAD","t":1165,"v":0.236},{"s":"AUD/CAD","t":1170,"v":0.277},{"s":"AUD/CAD","t":1175,"v":0.298},{"s":"AUD/CAD","t":1179,"v":0.318},{"s":"AUD/CAD","t":1184,"v":0.305},{"s":"AUD/CAD","t":1188,"v":0.264},{"s":"AUD/CAD","t":1193,"v":0.332},{"s":"AUD/CAD","t":1198,"v":0.318},{"s":"AUD/CAD","t":1202,"v":0.360},{"s":"AUD/CAD","t":1207,"v":0.373},{"s":"AUD/CAD","t":1211,"v":0.428},{"s":"AUD/CAD","t":1216,"v":0.414},{"s":"AUD/CAD","t":1220,"v":0.387},{"s":"AUD/CAD","t":1225,"v":0.401},{"s":"AUD/CAD","t":1230,"v":0.387},{"s":"AUD/CAD","t":1234,"v":0.401},{"s":"AUD/CAD","t":1237,"v":0.442},{"s":"AUD/CAD","t":1241,"v":0.483},{"s":"AUD/CAD","t":1245,"v":0.497},{"s":"AUD/CAD","t":1249,"v":0.455},{"s":"AUD/CAD","t":1253,"v":0.483},{"s":"AUD/CAD","t":1258,"v":0.503},{"s":"AUD/CAD","t":1260,"v":0.839},{"s":"AUD/CAD","t":1263,"v":0.565},{"s":"AUD/CAD","t":1267,"v":0.325},{"s":"AUD/CAD","t":1272,"v":0.428},{"s":"AUD/CAD","t":1277,"v":0.360},{"s":"AUD/CAD","t":1281,"v":0.497},{"s":"AUD/CAD","t":1286,"v":0.346},{"s":"AUD/CAD","t":1290,"v":0.305},{"s":"AUD/CAD","t":1295,"v":0.291},{"s":"AUD/CAD","t":1300,"v":0.277},{"s":"AUD/CAD","t":1304,"v":0.318},{"s":"AUD/CAD","t":1309,"v":0.394},{"s":"AUD/CAD","t":1313,"v":0.462},{"s":"AUD/CAD","t":1316,"v":0.387},{"s":"AUD/CAD","t":1321,"v":0.291},{"s":"AUD/CAD","t":1325,"v":0.195},{"s":"AUD/CAD","t":1330,"v":0.325},{"s":"AUD/CAD","t":1334,"v":0.373},{"s":"AUD/CAD","t":1339,"v":0.414},{"s":"AUD/CAD","t":1343,"v":0.318},{"s":"AUD/CAD","t":1346,"v":0.442},{"s":"AUD/CAD","t":1351,"v":0.394},{"s":"AUD/CAD","t":1355,"v":0.455},{"s":"AUD/CAD","t":1360,"v":0.387},{"s":"AUD/CAD","t":1364,"v":0.360},{"s":"AUD/CAD","t":1368,"v":0.449},{"s":"AUD/CAD","t":1374,"v":0.565},{"s":"AUD/CAD","t":1378,"v":0.442},{"s":"AUD/CAD","t":1383,"v":0.414},{"s":"AUD/CAD","t":1387,"v":0.469},{"s":"AUD/CAD","t":1391,"v":0.373},{"s":"AUD/CAD","t":1396,"v":0.462},{"s":"AUD/CAD","t":1400,"v":0.517},{"s":"AUD/CAD","t":1405,"v":0.476},{"s":"AUD/CAD","t":1409,"v":0.380},{"s":"AUD/CAD","t":1414,"v":0.339},{"s":"AUD/CAD","t":1418,"v":0.428},{"s":"AUD/CAD","t":1423,"v":0.483},{"s":"AUD/CAD","t":1426,"v":0.510},{"s":"AUD/CAD","t":1430,"v":0.497},{"s":"AUD/CAD","t":1433,"v":0.565},{"s":"AUD/CAD","t":1436,"v":0.510},{"s":"AUD/CAD","t":1438,"v":0.442},{"s":"AUD/CAD","t":1440,"v":0.469},
{"s":"NZD/CHF","t":0,"v":0.661},{"s":"NZD/CHF","t":3,"v":0.620},{"s":"NZD/CHF","t":6,"v":0.551},{"s":"NZD/CHF","t":11,"v":0.634},{"s":"NZD/CHF","t":14,"v":0.579},{"s":"NZD/CHF","t":19,"v":0.599},{"s":"NZD/CHF","t":22,"v":0.551},{"s":"NZD/CHF","t":27,"v":0.524},{"s":"NZD/CHF","t":32,"v":0.442},{"s":"NZD/CHF","t":36,"v":0.414},{"s":"NZD/CHF","t":39,"v":0.442},{"s":"NZD/CHF","t":42,"v":0.360},{"s":"NZD/CHF","t":44,"v":0.291},{"s":"NZD/CHF","t":47,"v":0.346},{"s":"NZD/CHF","t":51,"v":0.291},{"s":"NZD/CHF","t":53,"v":0.154},{"s":"NZD/CHF","t":55,"v":0.0},{"s":"NZD/CHF","t":58,"v":0.072},{"s":"NZD/CHF","t":60,"v":0.243},{"s":"NZD/CHF","t":64,"v":0.291},{"s":"NZD/CHF","t":67,"v":0.271},{"s":"NZD/CHF","t":70,"v":0.312},{"s":"NZD/CHF","t":74,"v":0.360},{"s":"NZD/CHF","t":77,"v":0.401},{"s":"NZD/CHF","t":80,"v":0.449},{"s":"NZD/CHF","t":85,"v":0.497},{"s":"NZD/CHF","t":88,"v":0.408},{"s":"NZD/CHF","t":92,"v":0.510},{"s":"NZD/CHF","t":96,"v":0.455},{"s":"NZD/CHF","t":102,"v":0.572},{"s":"NZD/CHF","t":106,"v":0.469},{"s":"NZD/CHF","t":110,"v":0.524},{"s":"NZD/CHF","t":115,"v":0.551},{"s":"NZD/CHF","t":119,"v":0.442},{"s":"NZD/CHF","t":122,"v":0.401},{"s":"NZD/CHF","t":125,"v":0.332},{"s":"NZD/CHF","t":129,"v":0.428},{"s":"NZD/CHF","t":134,"v":0.387},{"s":"NZD/CHF","t":138,"v":0.442},{"s":"NZD/CHF","t":143,"v":0.538},{"s":"NZD/CHF","t":147,"v":0.565},{"s":"NZD/CHF","t":150,"v":0.497},{"s":"NZD/CHF","t":155,"v":0.442},{"s":"NZD/CHF","t":160,"v":0.483},{"s":"NZD/CHF","t":164,"v":0.455},{"s":"NZD/CHF","t":169,"v":0.497},{"s":"NZD/CHF","t":173,"v":0.551},{"s":"NZD/CHF","t":178,"v":0.634},{"s":"NZD/CHF","t":181,"v":0.572},{"s":"NZD/CHF","t":186,"v":0.606},{"s":"NZD/CHF","t":190,"v":0.640},{"s":"NZD/CHF","t":195,"v":0.599},{"s":"NZD/CHF","t":199,"v":0.661},{"s":"NZD/CHF","t":204,"v":0.688},{"s":"NZD/CHF","t":207,"v":0.620},{"s":"NZD/CHF","t":211,"v":0.647},{"s":"NZD/CHF","t":215,"v":0.592},{"s":"NZD/CHF","t":219,"v":0.551},{"s":"NZD/CHF","t":223,"v":0.572},{"s":"NZD/CHF","t":228,"v":0.538},{"s":"NZD/CHF","t":231,"v":0.524},{"s":"NZD/CHF","t":236,"v":0.579},{"s":"NZD/CHF","t":240,"v":0.634},{"s":"NZD/CHF","t":246,"v":0.702},{"s":"NZD/CHF","t":249,"v":0.723},{"s":"NZD/CHF","t":252,"v":0.688},{"s":"NZD/CHF","t":256,"v":0.647},{"s":"NZD/CHF","t":260,"v":0.654},{"s":"NZD/CHF","t":264,"v":0.606},{"s":"NZD/CHF","t":267,"v":0.565},{"s":"NZD/CHF","t":271,"v":0.510},{"s":"NZD/CHF","t":274,"v":0.414},{"s":"NZD/CHF","t":279,"v":0.455},{"s":"NZD/CHF","t":283,"v":0.483},{"s":"NZD/CHF","t":288,"v":0.524},{"s":"NZD/CHF","t":292,"v":0.497},{"s":"NZD/CHF","t":297,"v":0.455},{"s":"NZD/CHF","t":301,"v":0.497},{"s":"NZD/CHF","t":306,"v":0.442},{"s":"NZD/CHF","t":311,"v":0.414},{"s":"NZD/CHF","t":315,"v":0.455},{"s":"NZD/CHF","t":320,"v":0.510},{"s":"NZD/CHF","t":324,"v":0.442},{"s":"NZD/CHF","t":329,"v":0.469},{"s":"NZD/CHF","t":334,"v":0.497},{"s":"NZD/CHF","t":339,"v":0.428},{"s":"NZD/CHF","t":343,"v":0.442},{"s":"NZD/CHF","t":347,"v":0.387},{"s":"NZD/CHF","t":350,"v":0.360},{"s":"NZD/CHF","t":353,"v":0.305},{"s":"NZD/CHF","t":356,"v":0.168},{"s":"NZD/CHF","t":359,"v":0.038},{"s":"NZD/CHF","t":362,"v":0.154},{"s":"NZD/CHF","t":365,"v":0.223},{"s":"NZD/CHF","t":368,"v":0.264},{"s":"NZD/CHF","t":371,"v":0.223},{"s":"NZD/CHF","t":375,"v":0.250},{"s":"NZD/CHF","t":379,"v":0.182},{"s":"NZD/CHF","t":383,"v":0.250},{"s":"NZD/CHF","t":386,"v":0.346},{"s":"NZD/CHF","t":390,"v":0.442},{"s":"NZD/CHF","t":394,"v":0.469},{"s":"NZD/CHF","t":399,"v":0.483},{"s":"NZD/CHF","t":403,"v":0.524},{"s":"NZD/CHF","t":407,"v":0.483},{"s":"NZD/CHF","t":411,"v":0.565},{"s":"NZD/CHF","t":415,"v":0.572},{"s":"NZD/CHF","t":418,"v":0.524},{"s":"NZD/CHF","t":423,"v":0.442},{"s":"NZD/CHF","t":428,"v":0.387},{"s":"NZD/CHF","t":432,"v":0.305},{"s":"NZD/CHF","t":437,"v":0.360},{"s":"NZD/CHF","t":441,"v":0.442},{"s":"NZD/CHF","t":446,"v":0.497},{"s":"NZD/CHF","t":450,"v":0.551},{"s":"NZD/CHF","t":454,"v":0.524},{"s":"NZD/CHF","t":457,"v":0.428},{"s":"NZD/CHF","t":462,"v":0.250},{"s":"NZD/CHF","t":466,"v":0.332},{"s":"NZD/CHF","t":470,"v":0.360},{"s":"NZD/CHF","t":476,"v":0.401},{"s":"NZD/CHF","t":480,"v":0.305},{"s":"NZD/CHF","t":484,"v":0.455},{"s":"NZD/CHF","t":488,"v":0.442},{"s":"NZD/CHF","t":490,"v":0.380},{"s":"NZD/CHF","t":494,"v":0.449},{"s":"NZD/CHF","t":499,"v":0.318},{"s":"NZD/CHF","t":503,"v":0.373},{"s":"NZD/CHF","t":508,"v":0.524},{"s":"NZD/CHF","t":512,"v":0.414},{"s":"NZD/CHF","t":515,"v":0.455},{"s":"NZD/CHF","t":519,"v":0.442},{"s":"NZD/CHF","t":523,"v":0.592},{"s":"NZD/CHF","t":527,"v":0.565},{"s":"NZD/CHF","t":531,"v":0.455},{"s":"NZD/CHF","t":535,"v":0.442},{"s":"NZD/CHF","t":540,"v":0.497},{"s":"NZD/CHF","t":545,"v":0.538},{"s":"NZD/CHF","t":549,"v":0.524},{"s":"NZD/CHF","t":553,"v":0.579},{"s":"NZD/CHF","t":557,"v":0.510},{"s":"NZD/CHF","t":562,"v":0.469},{"s":"NZD/CHF","t":567,"v":0.510},{"s":"NZD/CHF","t":571,"v":0.483},{"s":"NZD/CHF","t":576,"v":0.517},{"s":"NZD/CHF","t":580,"v":0.483},{"s":"NZD/CHF","t":585,"v":0.497},{"s":"NZD/CHF","t":590,"v":0.524},{"s":"NZD/CHF","t":593,"v":0.565},{"s":"NZD/CHF","t":596,"v":0.702},{"s":"NZD/CHF","t":598,"v":0.579},{"s":"NZD/CHF","t":602,"v":0.476},{"s":"NZD/CHF","t":606,"v":0.497},{"s":"NZD/CHF","t":609,"v":0.469},{"s":"NZD/CHF","t":613,"v":0.421},{"s":"NZD/CHF","t":618,"v":0.455},{"s":"NZD/CHF","t":622,"v":0.469},{"s":"NZD/CHF","t":627,"v":0.428},{"s":"NZD/CHF","t":631,"v":0.387},{"s":"NZD/CHF","t":636,"v":0.339},{"s":"NZD/CHF","t":641,"v":0.401},{"s":"NZD/CHF","t":645,"v":0.401},{"s":"NZD/CHF","t":650,"v":0.387},{"s":"NZD/CHF","t":654,"v":0.442},{"s":"NZD/CHF","t":658,"v":0.414},{"s":"NZD/CHF","t":662,"v":0.387},{"s":"NZD/CHF","t":667,"v":0.428},{"s":"NZD/CHF","t":672,"v":0.414},{"s":"NZD/CHF","t":676,"v":0.442},{"s":"NZD/CHF","t":680,"v":0.483},{"s":"NZD/CHF","t":685,"v":0.497},{"s":"NZD/CHF","t":690,"v":0.455},{"s":"NZD/CHF","t":694,"v":0.510},{"s":"NZD/CHF","t":699,"v":0.565},{"s":"NZD/CHF","t":704,"v":0.524},{"s":"NZD/CHF","t":708,"v":0.455},{"s":"NZD/CHF","t":713,"v":0.497},{"s":"NZD/CHF","t":717,"v":0.442},{"s":"NZD/CHF","t":722,"v":0.483},{"s":"NZD/CHF","t":726,"v":0.599},{"s":"NZD/CHF","t":730,"v":0.455},{"s":"NZD/CHF","t":734,"v":0.360},{"s":"NZD/CHF","t":739,"v":0.291},{"s":"NZD/CHF","t":742,"v":0.202},{"s":"NZD/CHF","t":746,"v":0.291},{"s":"NZD/CHF","t":749,"v":0.551},{"s":"NZD/CHF","t":753,"v":0.483},{"s":"NZD/CHF","t":757,"v":0.428},{"s":"NZD/CHF","t":761,"v":0.360},{"s":"NZD/CHF","t":765,"v":0.469},{"s":"NZD/CHF","t":770,"v":0.524},{"s":"NZD/CHF","t":773,"v":0.565},{"s":"NZD/CHF","t":777,"v":0.634},{"s":"NZD/CHF","t":781,"v":0.702},{"s":"NZD/CHF","t":786,"v":0.771},{"s":"NZD/CHF","t":790,"v":0.839},{"s":"NZD/CHF","t":794,"v":0.880},{"s":"NZD/CHF","t":797,"v":0.818},{"s":"NZD/CHF","t":802,"v":0.784},{"s":"NZD/CHF","t":805,"v":0.757},{"s":"NZD/CHF","t":810,"v":0.818},{"s":"NZD/CHF","t":814,"v":0.743},{"s":"NZD/CHF","t":819,"v":0.688},{"s":"NZD/CHF","t":822,"v":0.606},{"s":"NZD/CHF","t":825,"v":0.565},{"s":"NZD/CHF","t":830,"v":0.592},{"s":"NZD/CHF","t":834,"v":0.764},{"s":"NZD/CHF","t":837,"v":0.661},{"s":"NZD/CHF","t":841,"v":0.688},{"s":"NZD/CHF","t":845,"v":0.702},{"s":"NZD/CHF","t":850,"v":0.675},{"s":"NZD/CHF","t":853,"v":0.771},{"s":"NZD/CHF","t":857,"v":0.880},{"s":"NZD/CHF","t":860,"v":0.825},{"s":"NZD/CHF","t":863,"v":0.757},{"s":"NZD/CHF","t":868,"v":0.661},{"s":"NZD/CHF","t":872,"v":0.716},{"s":"NZD/CHF","t":876,"v":0.634},{"s":"NZD/CHF","t":880,"v":0.702},{"s":"NZD/CHF","t":884,"v":0.661},{"s":"NZD/CHF","t":889,"v":0.620},{"s":"NZD/CHF","t":893,"v":0.565},{"s":"NZD/CHF","t":898,"v":0.538},{"s":"NZD/CHF","t":902,"v":0.442},{"s":"NZD/CHF","t":907,"v":0.551},{"s":"NZD/CHF","t":911,"v":0.654},{"s":"NZD/CHF","t":914,"v":0.497},{"s":"NZD/CHF","t":918,"v":0.469},{"s":"NZD/CHF","t":923,"v":0.428},{"s":"NZD/CHF","t":926,"v":0.195},{"s":"NZD/CHF","t":930,"v":0.305},{"s":"NZD/CHF","t":933,"v":0.387},{"s":"NZD/CHF","t":937,"v":0.360},{"s":"NZD/CHF","t":940,"v":0.442},{"s":"NZD/CHF","t":943,"v":0.428},{"s":"NZD/CHF","t":947,"v":0.510},{"s":"NZD/CHF","t":951,"v":0.606},{"s":"NZD/CHF","t":955,"v":0.524},{"s":"NZD/CHF","t":959,"v":0.565},{"s":"NZD/CHF","t":963,"v":0.497},{"s":"NZD/CHF","t":966,"v":0.373},{"s":"NZD/CHF","t":970,"v":0.497},{"s":"NZD/CHF","t":974,"v":0.565},{"s":"NZD/CHF","t":979,"v":0.524},{"s":"NZD/CHF","t":984,"v":0.551},{"s":"NZD/CHF","t":988,"v":0.606},{"s":"NZD/CHF","t":993,"v":0.634},{"s":"NZD/CHF","t":997,"v":0.702},{"s":"NZD/CHF","t":1000,"v":0.757},{"s":"NZD/CHF","t":1005,"v":0.702},{"s":"NZD/CHF","t":1009,"v":0.743},{"s":"NZD/CHF","t":1012,"v":0.743},{"s":"NZD/CHF","t":1017,"v":0.702},{"s":"NZD/CHF","t":1021,"v":0.524},{"s":"NZD/CHF","t":1024,"v":0.469},{"s":"NZD/CHF","t":1027,"v":0.428},{"s":"NZD/CHF","t":1031,"v":0.462},{"s":"NZD/CHF","t":1034,"v":0.414},{"s":"NZD/CHF","t":1039,"v":0.551},{"s":"NZD/CHF","t":1042,"v":0.592},{"s":"NZD/CHF","t":1045,"v":0.764},{"s":"NZD/CHF","t":1049,"v":0.620},{"s":"NZD/CHF","t":1053,"v":0.592},{"s":"NZD/CHF","t":1056,"v":0.736},{"s":"NZD/CHF","t":1059,"v":0.784},{"s":"NZD/CHF","t":1063,"v":0.757},{"s":"NZD/CHF","t":1066,"v":0.860},{"s":"NZD/CHF","t":1069,"v":0.818},{"s":"NZD/CHF","t":1073,"v":0.771},{"s":"NZD/CHF","t":1076,"v":0.825},{"s":"NZD/CHF","t":1080,"v":1.0},{"s":"NZD/CHF","t":1083,"v":0.942},{"s":"NZD/CHF","t":1085,"v":0.647},{"s":"NZD/CHF","t":1089,"v":0.565},{"s":"NZD/CHF","t":1092,"v":0.483},{"s":"NZD/CHF","t":1096,"v":0.551},{"s":"NZD/CHF","t":1099,"v":0.606},{"s":"NZD/CHF","t":1103,"v":0.661},{"s":"NZD/CHF","t":1106,"v":0.688},{"s":"NZD/CHF","t":1109,"v":0.647},{"s":"NZD/CHF","t":1113,"v":0.620},{"s":"NZD/CHF","t":1117,"v":0.688},{"s":"NZD/CHF","t":1121,"v":0.729},{"s":"NZD/CHF","t":1124,"v":0.771},{"s":"NZD/CHF","t":1128,"v":0.702},{"s":"NZD/CHF","t":1131,"v":0.723},{"s":"NZD/CHF","t":1135,"v":0.634},{"s":"NZD/CHF","t":1138,"v":0.647},{"s":"NZD/CHF","t":1141,"v":0.394},{"s":"NZD/CHF","t":1145,"v":0.387},{"s":"NZD/CHF","t":1149,"v":0.291},{"s":"NZD/CHF","t":1152,"v":0.257},{"s":"NZD/CHF","t":1155,"v":0.271},{"s":"NZD/CHF","t":1159,"v":0.483},{"s":"NZD/CHF","t":1162,"v":0.414},{"s":"NZD/CHF","t":1165,"v":0.510},{"s":"NZD/CHF","t":1168,"v":0.360},{"s":"NZD/CHF","t":1172,"v":0.524},{"s":"NZD/CHF","t":1176,"v":0.360},{"s":"NZD/CHF","t":1179,"v":0.325},{"s":"NZD/CHF","t":1182,"v":0.414},{"s":"NZD/CHF","t":1186,"v":0.428},{"s":"NZD/CHF","t":1190,"v":0.373},{"s":"NZD/CHF","t":1193,"v":0.428},{"s":"NZD/CHF","t":1198,"v":0.414},{"s":"NZD/CHF","t":1201,"v":0.360},{"s":"NZD/CHF","t":1204,"v":0.414},{"s":"NZD/CHF","t":1208,"v":0.503},{"s":"NZD/CHF","t":1211,"v":0.428},{"s":"NZD/CHF","t":1214,"v":0.442},{"s":"NZD/CHF","t":1219,"v":0.620},{"s":"NZD/CHF","t":1222,"v":0.360},{"s":"NZD/CHF","t":1226,"v":0.229},{"s":"NZD/CHF","t":1229,"v":0.360},{"s":"NZD/CHF","t":1232,"v":0.387},{"s":"NZD/CHF","t":1236,"v":0.291},{"s":"NZD/CHF","t":1238,"v":0.188},{"s":"NZD/CHF","t":1241,"v":0.387},{"s":"NZD/CHF","t":1245,"v":0.428},{"s":"NZD/CHF","t":1249,"v":0.360},{"s":"NZD/CHF","t":1252,"v":0.414},{"s":"NZD/CHF","t":1255,"v":0.360},{"s":"NZD/CHF","t":1258,"v":0.497},{"s":"NZD/CHF","t":1260,"v":0.736},{"s":"NZD/CHF","t":1264,"v":0.360},{"s":"NZD/CHF","t":1267,"v":0.839},{"s":"NZD/CHF","t":1270,"v":0.634},{"s":"NZD/CHF","t":1274,"v":0.839},{"s":"NZD/CHF","t":1276,"v":0.565},{"s":"NZD/CHF","t":1279,"v":0.716},{"s":"NZD/CHF","t":1283,"v":0.969},{"s":"NZD/CHF","t":1287,"v":0.866},{"s":"NZD/CHF","t":1290,"v":0.634},{"s":"NZD/CHF","t":1294,"v":0.428},{"s":"NZD/CHF","t":1297,"v":0.360},{"s":"NZD/CHF","t":1300,"v":0.565},{"s":"NZD/CHF","t":1303,"v":0.702},{"s":"NZD/CHF","t":1306,"v":0.620},{"s":"NZD/CHF","t":1310,"v":0.887},{"s":"NZD/CHF","t":1312,"v":0.757},{"s":"NZD/CHF","t":1316,"v":0.634},{"s":"NZD/CHF","t":1318,"v":0.510},{"s":"NZD/CHF","t":1320,"v":0.360},{"s":"NZD/CHF","t":1323,"v":0.223},{"s":"NZD/CHF","t":1326,"v":0.291},{"s":"NZD/CHF","t":1329,"v":0.202},{"s":"NZD/CHF","t":1332,"v":0.154},{"s":"NZD/CHF","t":1335,"v":0.291},{"s":"NZD/CHF","t":1339,"v":0.127},{"s":"NZD/CHF","t":1341,"v":0.065},{"s":"NZD/CHF","t":1344,"v":0.223},{"s":"NZD/CHF","t":1346,"v":0.113},{"s":"NZD/CHF","t":1350,"v":0.325},{"s":"NZD/CHF","t":1354,"v":0.305},{"s":"NZD/CHF","t":1357,"v":0.414},{"s":"NZD/CHF","t":1360,"v":0.360},{"s":"NZD/CHF","t":1364,"v":0.497},{"s":"NZD/CHF","t":1367,"v":0.353},{"s":"NZD/CHF","t":1370,"v":0.442},{"s":"NZD/CHF","t":1374,"v":0.565},{"s":"NZD/CHF","t":1376,"v":0.106},{"s":"NZD/CHF","t":1380,"v":0.428},{"s":"NZD/CHF","t":1383,"v":0.565},{"s":"NZD/CHF","t":1386,"v":0.599},{"s":"NZD/CHF","t":1390,"v":0.551},{"s":"NZD/CHF","t":1393,"v":0.736},{"s":"NZD/CHF","t":1396,"v":0.668},{"s":"NZD/CHF","t":1400,"v":0.716},{"s":"NZD/CHF","t":1404,"v":0.634},{"s":"NZD/CHF","t":1407,"v":0.606},{"s":"NZD/CHF","t":1410,"v":0.565},{"s":"NZD/CHF","t":1414,"v":0.634},{"s":"NZD/CHF","t":1418,"v":0.688},{"s":"NZD/CHF","t":1421,"v":0.675},{"s":"NZD/CHF","t":1424,"v":0.771},{"s":"NZD/CHF","t":1428,"v":0.825},{"s":"NZD/CHF","t":1431,"v":0.771},{"s":"NZD/CHF","t":1435,"v":0.647},{"s":"NZD/CHF","t":1437,"v":0.620},{"s":"NZD/CHF","t":1440,"v":0.551}
]},
"mark": {"type": "line", "strokeWidth": 2.4, "interpolate": "linear", "strokeJoin": "round"},
"encoding": {
"x": {"field": "t", "type": "quantitative", "scale": {"domain": [-72, 1512], "nice": false, "zero": false},
 "axis": {"values": [0,180,360,540,720,900,1080,1260,1440], "labelExpr": "(floor(datum.value/60)%24 < 10 ? '0' : '') + (floor(datum.value/60)%24) + ':00'", "labelAngle": -45, "labelAlign": "center", "labelBaseline": "middle", "labelPadding": 27, "labelFontSize": 15.5, "labelColor": "#222", "labelFont": "Roboto", "tickSize": 5, "tickColor": "#222", "domain": false, "grid": true, "gridColor": "#cfcfcf", "gridDash": [5, 3], "gridWidth": 0.9, "title": "Minute of the Day (UTC)", "titleFontSize": 15, "titleFontWeight": "normal", "titleColor": "#111", "titleFont": "Roboto", "titlePadding": 10}},
"y": {"field": "v", "type": "quantitative", "scale": {"domain": [-0.05, 1.05], "nice": false, "zero": false},
 "axis": {"values": [0, 0.2, 0.4, 0.6, 0.8, 1.0], "format": ".1f", "labelFontSize": 15.5, "labelColor": "#222", "labelFont": "Roboto", "labelPadding": 4, "tickSize": 5, "tickColor": "#222", "domain": false, "grid": true, "gridColor": "#cfcfcf", "gridDash": [5, 3], "gridWidth": 0.9, "title": "Scaled Average Detrended Price (0.0 to 1.0)", "titleFontSize": 15, "titleFontWeight": "normal", "titleColor": "#111", "titleFont": "Roboto", "titlePadding": 12}},
"color": {"field": "s", "type": "nominal", "sort": ["EUR/USD", "GBP/JPY", "AUD/CAD", "NZD/CHF"],
 "scale": {"domain": ["EUR/USD", "GBP/JPY", "AUD/CAD", "NZD/CHF"], "range": ["#0b57d0", "#de8f05", "#029e73", "#d55e00"]},
 "legend": {"orient": "none", "legendX": 1204, "legendY": 7, "title": null, "symbolType": "M-1.35,0L1.35,0", "symbolStrokeWidth": 2.5, "symbolSize": 530, "labelFontSize": 14, "labelFont": "Roboto", "labelColor": "#111", "labelOffset": 13, "rowPadding": 0, "strokeColor": "#d0d0d0", "fillColor": "white", "padding": 3, "cornerRadius": 4}}
}
}
